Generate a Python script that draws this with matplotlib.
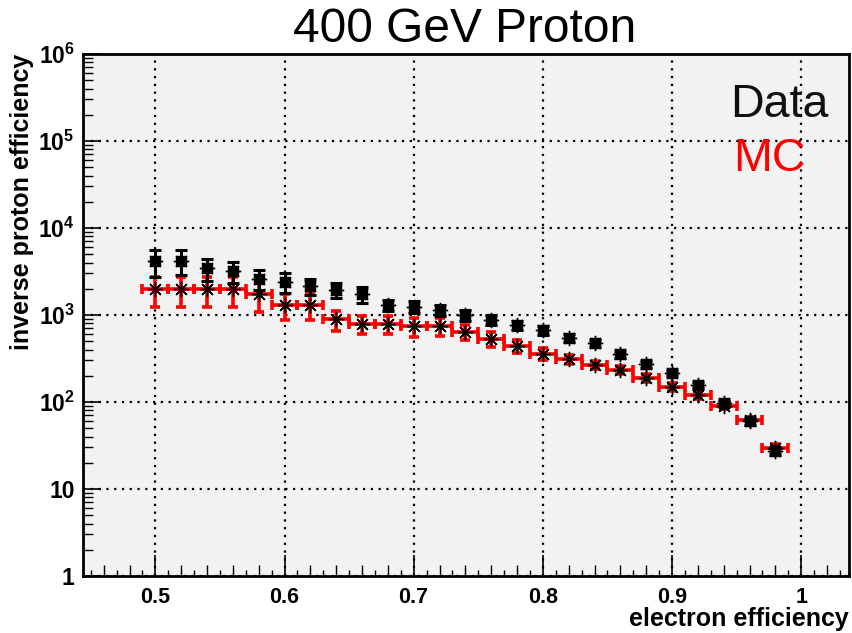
import matplotlib.pyplot as plt
import numpy as np
from matplotlib.ticker import FixedLocator, NullFormatter

plt.rcParams['font.family'] = ['Liberation Sans', 'DejaVu Sans']
plt.rcParams['mathtext.fontset'] = 'custom'
plt.rcParams['mathtext.rm'] = 'Liberation Sans'
plt.rcParams['mathtext.bf'] = 'Liberation Sans:bold'

# electron efficiency bins
eff = [0.50, 0.52, 0.54, 0.56, 0.58, 0.60, 0.62, 0.64, 0.66, 0.68, 0.70, 0.72,
       0.74, 0.76, 0.78, 0.80, 0.82, 0.84, 0.86, 0.88, 0.90, 0.92, 0.94, 0.96, 0.98]

# Data (black)
data_val = [4200, 4200, 3450, 3200, 2600, 2400, 2150, 1950, 1740, 1300, 1250, 1150,
            1000, 880, 770, 670, 550, 475, 355, 273, 215, 157, 97, 60, 27]
data_err = [1450, 1350, 1000, 850, 650, 600, 450, 400, 350, 200, 200, 170,
            140, 120, 90, 75, 55, 45, 32, 25, 18, 13, 8, 5, 2.5]

# MC (red)
mc_val = [2000, 2000, 2000, 2000, 1740, 1300, 1300, 890, 790, 790, 740, 750,
          640, 530, 440, 360, 311, 267, 233, 189, 149, 120, 90, 62, 29.5]
mc_err = [750, 750, 750, 750, 650, 430, 430, 230, 190, 190, 180, 170,
          130, 100, 70, 55, 40, 30, 25, 20, 15, 11, 8, 5, 3]
bin_half = 0.01

y_ticks = [1, 10, 100, 1e3, 1e4, 1e5, 1e6]
y_labels = ['1', '10', r'$\mathbf{10^{2}}$', r'$\mathbf{10^{3}}$', r'$\mathbf{10^{4}}$',
            r'$\mathbf{10^{5}}$', r'$\mathbf{10^{6}}$']
x_ticks = [0.5, 0.6, 0.7, 0.8, 0.9, 1.0]
x_labels = ['0.5', '0.6', '0.7', '0.8', '0.9', '1']

fig = plt.figure(figsize=(8.53, 6.33), dpi=100)
W, H = 853, 633
ax = fig.add_axes([83 / W, 1 - 576 / H, (849 - 83) / W, (576 - 54) / H])
ax.set_facecolor('#f2f2f2')

ax.set_yscale('log')
ax.set_xlim(0.444, 1.037)
ax.set_ylim(1, 1e6)

# MC: red error bars with horizontal bin width
ax.errorbar(eff, mc_val, yerr=mc_err, xerr=bin_half, fmt='none', ecolor='red',
            elinewidth=2.6, capsize=3.5, capthick=2.6, zorder=3)
ax.plot(eff, mc_val, linestyle='none', marker=(8, 2, 0), markersize=11,
        markeredgecolor='black', markeredgewidth=1.0, zorder=4)

# Data: black points with vertical error bars
ax.errorbar(eff, data_val, yerr=data_err, fmt='none', ecolor='black',
            elinewidth=2.2, capsize=4, capthick=2.2, zorder=5)
ax.plot(eff, data_val, linestyle='none', marker='s', markersize=7,
        color='black', zorder=6)
ax.plot(eff, data_val, linestyle='none', marker=(8, 2, 0), markersize=11,
        markeredgecolor='black', markeredgewidth=1.0, zorder=6)

# ticks
ax.xaxis.set_major_locator(FixedLocator(x_ticks))
ax.set_xticklabels(x_labels)
ax.xaxis.set_minor_locator(FixedLocator(np.arange(0.46, 1.04, 0.02)))
ax.xaxis.set_minor_formatter(NullFormatter())
ax.yaxis.set_major_locator(FixedLocator(y_ticks))
ax.set_yticklabels(y_labels)
minor_y = [m * 10 ** d for d in range(6) for m in range(2, 10)]
ax.yaxis.set_minor_locator(FixedLocator(minor_y))
ax.yaxis.set_minor_formatter(NullFormatter())

ax.tick_params(axis='x', which='major', direction='in', length=15, width=1.2,
               labelsize=15.5, pad=8)
ax.tick_params(axis='y', which='major', direction='in', length=13, width=1.2,
               labelsize=16.5, pad=6)
ax.tick_params(axis='x', which='minor', direction='in', length=8, width=1)
ax.tick_params(axis='y', which='minor', direction='in', length=7, width=1)
for lab in ax.get_xticklabels() + ax.get_yticklabels():
    lab.set_fontweight('bold')

# finest x ticks at every 0.01
sec = ax.secondary_xaxis('bottom')
sec.xaxis.set_major_locator(FixedLocator(np.arange(0.45, 1.04, 0.02)))
sec.xaxis.set_major_formatter(NullFormatter())
sec.tick_params(axis='x', direction='in', length=4, width=1)
sec.spines['bottom'].set_visible(False)

ax.grid(True, which='major', linestyle=(0, (1, 2.5)), color='black', linewidth=1.6)
for s in ax.spines.values():
    s.set_linewidth(2)

ax.set_xlabel('electron efficiency', fontsize=18, fontweight='bold', ha='right', va='top')
ax.xaxis.set_label_coords(1.0, -0.06)
ax.set_ylabel('inverse proton efficiency', fontsize=18, fontweight='bold', ha='right')
ax.yaxis.set_label_coords(-0.064, 1.0)

fig.text(465 / W, 1 - 30 / H, '400 GeV Proton', fontsize=34.5, ha='center', va='center')
fig.text(829 / W, 1 - 117 / H, 'Data', fontsize=33.5, ha='right', va='baseline', color='#111111')
fig.text(733 / W, 1 - 171 / H, 'MC', fontsize=33.5, ha='left', va='baseline', color='red')

fig.savefig('out.png', dpi=100)
